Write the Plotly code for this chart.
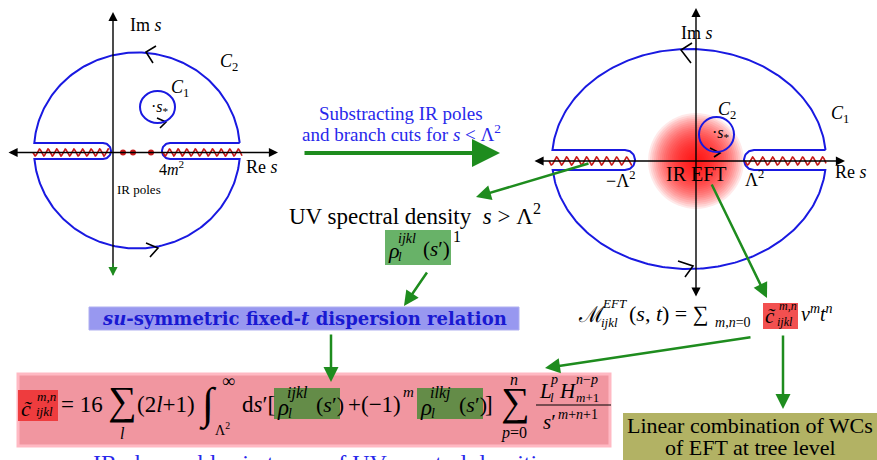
import numpy as np
import plotly.graph_objects as go

W, H = 877, 460
SERIF = "Liberation Serif, DejaVu Serif, serif"
BLUE = "rgb(25,25,225)"
TXTBLUE = "rgb(40,40,235)"
GREEN = "rgb(30,140,30)"
RED = "rgb(200,25,25)"

# ---------------- diagram geometry (pixel space) ----------------
# contour: centre x, centre y, rx, ry, cut top y, cut bottom y, left-cut end x, right-cut start x
left_contour = [137, 150.5, 103, 98, 143, 159, 111, 162]
right_contour = [689, 159, 137, 110, 150, 170, 635, 744]
left_axes = dict(h=[7, 278, 152.5], v=[113, 12, 276])
right_axes = dict(h=[533, 845, 161], v=[696, 8, 298])
left_cuts = [[33, 109], [163, 242]]
right_cuts = [[549, 632], [745, 826]]
ir_pole_x = [123, 133, 151]
glow_radii = list(np.linspace(48, 3, 24))

# text labels
left_labels = [
    (128, 25, "Im <i>s</i>", 18, "left"), (229, 62, "<i>C</i><sub>2</sub>", 18, "center"),
    (180, 88, "<i>C</i><sub>1</sub>", 18, "center"), (160, 107, "·<i>s</i><sub>*</sub>", 16, "center"),
    (171, 168, "4<i>m</i><sup>2</sup>", 16, "center"), (262, 167, "Re <i>s</i>", 18, "center"),
    (115, 189, "IR poles", 13, "left"),
]
right_labels = [
    (697, 33, "Im <i>s</i>", 18, "center"), (727, 110, "<i>C</i><sub>2</sub>", 18, "center"),
    (840, 114, "<i>C</i><sub>1</sub>", 18, "center"), (721, 133, "·<i>s</i><sub>*</sub>", 16, "center"),
    (621, 179, "−Λ<sup>2</sup>", 18, "center"), (696, 174, "IR EFT", 20, "center"),
    (754, 178, "Λ<sup>2</sup>", 18, "center"), (851, 172, "Re <i>s</i>", 18, "center"),
]
mid_text = ["Substracting IR poles", "and branch cuts for <i>s</i> &lt; Λ<sup>2</sup>"]
uv_text = "UV spectral density  <i>s</i> &gt; Λ<sup>2</sup>"
disp_text = "<b><i>su</i>-symmetric fixed-<i>t</i> dispersion relation</b>"
wc_text = ["Linear combination of WCs", "of EFT at tree level"]
bottom_text = "IR observables in terms of UV spectral densities"


def contour(cx, cy, rx, ry, yt, yb, xle, xrs):
    r = (yb - yt) / 2
    ym = (yt + yb) / 2
    xs, ys = [], []
    th = np.arcsin((cy - yt) / ry)
    t = np.linspace(th, np.pi - th, 160)
    xs += list(cx + rx * np.cos(t)); ys += list(cy - ry * np.sin(t))
    c = xle - r
    f = np.linspace(-np.pi / 2, np.pi / 2, 30)
    xs += list(c + r * np.cos(f)); ys += list(ym + r * np.sin(f))
    ps = np.arcsin((yb - cy) / ry)
    p = np.linspace(ps, np.pi - ps, 160)
    xs += list(cx - rx * np.cos(p)); ys += list(cy + ry * np.sin(p))
    c = xrs + r
    f = np.linspace(np.pi / 2, 3 * np.pi / 2, 30)
    xs += list(c + r * np.cos(f)); ys += list(ym + r * np.sin(f))
    xs.append(xs[0]); ys.append(ys[0])
    return xs, ys


def wave(a, b, y0, lam, amp):
    x = np.linspace(a, b, 300)
    return x, y0 + amp * np.sin(2 * np.pi * (x - a) / lam)


fig = go.Figure()

for cpar in (left_contour, right_contour):
    xs, ys = contour(*cpar)
    fig.add_trace(go.Scatter(x=xs, y=ys, mode="lines", line=dict(color=BLUE, width=2), hoverinfo="skip"))

for (a, b) in left_cuts:
    x, y = wave(a, b, left_axes["h"][2], 8.6, 3.5)
    fig.add_trace(go.Scatter(x=x, y=y, mode="lines", line=dict(color=RED, width=1.6), hoverinfo="skip"))
for (a, b) in right_cuts:
    x, y = wave(a, b, right_axes["h"][2], 10, 4)
    fig.add_trace(go.Scatter(x=x, y=y, mode="lines", line=dict(color=RED, width=1.6), hoverinfo="skip"))

fig.add_trace(go.Scatter(x=ir_pole_x, y=[left_axes["h"][2]] * 3, mode="markers",
                         marker=dict(color=RED, size=6), hoverinfo="skip"))

# chevrons on contours
chevrons = [
    [(156, 46), (146, 52), (153, 63)], [(146, 243), (158, 248), (150, 257)], [(157, 118), (166, 122), (160, 128)],
    [(692, 43), (681, 50), (691, 63)], [(678, 261), (693, 266), (685, 277)], [(710, 148), (720, 153), (714, 157)],
]
for ch in chevrons:
    fig.add_trace(go.Scatter(x=[p[0] for p in ch], y=[p[1] for p in ch], mode="lines",
                             line=dict(color="black", width=1.6), hoverinfo="skip"))

shapes = []
# red glow of the IR EFT region
gx, gy = right_axes["v"][0], right_axes["h"][2]
for r in glow_radii:
    shapes.append(dict(type="circle", xref="x", yref="y", x0=gx - r, x1=gx + r, y0=gy - r, y1=gy + r,
                       fillcolor="rgba(255,0,0,0.085)", line=dict(width=0), layer="below"))
# small circles C1 / C2
shapes.append(dict(type="circle", xref="x", yref="y", x0=140, x1=175, y0=91, y1=123,
                   line=dict(color=BLUE, width=2)))
shapes.append(dict(type="circle", xref="x", yref="y", x0=699, x1=734, y0=117, y1=152,
                   line=dict(color=BLUE, width=2)))
# coloured boxes
shapes.append(dict(type="rect", xref="x", yref="y", x0=385, x1=451, y0=230, y1=265,
                   fillcolor="rgb(104,178,104)", line=dict(width=0), layer="below"))
shapes.append(dict(type="rect", xref="x", yref="y", x0=89, x1=519, y0=307, y1=330,
                   fillcolor="rgb(152,152,240)", line=dict(color="rgb(175,175,240)", width=1), layer="below"))
shapes.append(dict(type="rect", xref="x", yref="y", x0=18, x1=610, y0=374, y1=446,
                   fillcolor="rgb(241,150,160)", line=dict(color="rgb(255,185,195)", width=3), layer="below"))
shapes.append(dict(type="rect", xref="x", yref="y", x0=18, x1=58, y0=390, y1=421,
                   fillcolor="rgb(238,60,62)", line=dict(width=0), layer="below"))
for x0, x1 in ((274, 340), (417, 483)):
    shapes.append(dict(type="rect", xref="x", yref="y", x0=x0, x1=x1, y0=388, y1=419,
                       fillcolor="rgb(100,140,72)", line=dict(width=0), layer="below"))
shapes.append(dict(type="rect", xref="x", yref="y", x0=763, x1=798, y0=303, y1=329,
                   fillcolor="rgb(242,80,80)", line=dict(width=0), layer="below"))
shapes.append(dict(type="rect", xref="x", yref="y", x0=623, x1=877, y0=413, y1=462,
                   fillcolor="rgb(178,178,100)", line=dict(width=0), layer="below"))
# fraction line
shapes.append(dict(type="line", xref="x", yref="y", x0=536, x1=611, y0=405, y1=405,
                   line=dict(color="black", width=1.2)))

ann = []


def T(x, y, text, size=17, color="black", xanchor="center", yanchor="middle", family=SERIF):
    ann.append(dict(x=x, y=y, xref="x", yref="y", text=text, showarrow=False,
                    font=dict(family=family, size=size, color=color), xanchor=xanchor, yanchor=yanchor))


def A(x0, y0, x1, y1, color, width, size=1.0, side="end"):
    ann.append(dict(x=x1, y=y1, ax=x0, ay=y0, xref="x", yref="y", axref="x", ayref="y",
                    showarrow=True, text="", arrowhead=2, startarrowhead=2, arrowsize=size,
                    startarrowsize=size, arrowwidth=width, arrowcolor=color, arrowside=side))


# axes
h = left_axes["h"]; v = left_axes["v"]
A(h[0], h[2], h[1], h[2], "black", 1.4, 1.3, "end+start")
A(v[0], v[2], v[0], v[1], "black", 1.4, 1.3)
A(v[0], v[2] - 14, v[0], v[2], GREEN, 1.4, 1.3)
h = right_axes["h"]; v = right_axes["v"]
A(h[0], h[2], h[1], h[2], "black", 1.4, 1.3, "end+start")
A(v[0], v[2], v[0], v[1], "black", 1.4, 1.3, "end+start")

# green flow arrows
A(303, 153, 500, 153, GREEN, 4, 1.4)
A(590, 163, 476, 197, GREEN, 2.5, 1.2)
A(428, 271, 404, 306, GREEN, 2.5, 1.2)
A(331, 333, 331, 382, GREEN, 2.5, 1.2)
A(711, 183, 767, 298, GREEN, 2.5, 1.2)
A(752, 337, 545, 368, GREEN, 2.5, 1.2)
A(783, 334, 783, 409, GREEN, 2.5, 1.2)

for (x, y, t, s, xa) in left_labels + right_labels:
    T(x, y, t, s, xanchor=xa)

T(401, 113, mid_text[0], 19, TXTBLUE)
T(401, 133, mid_text[1], 19, TXTBLUE)
T(415, 214, uv_text, 23)
T(386, 250, "<i>ρ</i>", 22, xanchor="left")
T(396, 256, "<i>l</i>", 13, xanchor="left")
T(396, 238, "<i>ijkl</i>", 14, xanchor="left")
T(421, 249, "(<i>s</i>′)", 21, xanchor="left")
T(457, 236, "1", 16)
T(304, 318, disp_text, 18, "rgb(25,25,210)", family="DejaVu Serif")

# equation
EY = 404
T(26, 408, "<i>c̃</i>", 22)
T(35, 396, "<i>m,n</i>", 13, xanchor="left")
T(34, 411, "<i>ijkl</i>", 13, xanchor="left")
T(82, EY, "= 16", 23)
T(122, 400, "∑", 40)
T(122, 433, "<i>l</i>", 16)
T(166, EY, "(2<i>l</i>+1)", 23)
T(208, 404, "∫", 44)
T(228, 381, "∞", 18)
T(222, 429, "Λ<sup>2</sup>", 14)
T(258, EY, "d<i>s</i>′[", 23)
for bx, idx in ((275, "<i>ijkl</i>"), (418, "<i>ilkj</i>")):
    T(bx, EY + 3, "<i>ρ</i>", 23, xanchor="left")
    T(bx + 11, 413, "<i>l</i>", 14, xanchor="left")
    T(bx + 10, 393, idx, 16, xanchor="left")
    T(bx + 39, EY, "(<i>s</i>′)", 22, xanchor="left")
T(374, EY, "+(−1)", 23)
T(408, 392, "<i>m</i>", 15)
T(489, EY, "]", 23)
T(515, 401, "∑", 40)
T(514, 379, "<i>n</i>", 16)
T(514, 433, "<i>p</i>=0", 16)
# fraction L_l^p H_{m+1}^{n-p} / s'^{m+n+1}
T(537, 391, "<i>L</i>", 21, xanchor="left")
T(548, 379, "<i>p</i>", 14, xanchor="left")
T(548, 397, "<i>l</i>", 13, xanchor="left")
T(557, 391, "<i>H</i>", 21, xanchor="left")
T(574, 379, "<i>n</i>−<i>p</i>", 14, xanchor="left")
T(574, 397, "<i>m</i>+1", 13, xanchor="left")
T(541, 422, "<i>s</i>′", 21, xanchor="left")
T(556, 414, "<i>m</i>+<i>n</i>+1", 14, xanchor="left")

# M^EFT line
T(576, 314, "ℳ", 22, xanchor="left")
T(600, 303, "<i>EFT</i>", 13, xanchor="left")
T(599, 322, "<i>ijkl</i>", 13, xanchor="left")
T(627, 313, "(<i>s</i>, <i>t</i>) = ∑", 22, xanchor="left")
T(713, 322, "<i>m</i>,<i>n</i>=0", 14, xanchor="left")
T(770, 316, "<i>c̃</i>", 21)
T(777, 306, "<i>m,n</i>", 12, xanchor="left")
T(775, 322, "<i>ijkl</i>", 12, xanchor="left")
T(799, 313, "<i>v</i><sup><i>m</i></sup><i>t</i><sup><i>n</i></sup>", 20, xanchor="left")

T(750, 425, wc_text[0], 22)
T(750, 447, wc_text[1], 22)
T(325, 448, bottom_text, 24, TXTBLUE, yanchor="top")

fig.update_layout(
    width=W, height=H, margin=dict(l=0, r=0, t=0, b=0),
    paper_bgcolor="white", plot_bgcolor="white", showlegend=False,
    xaxis=dict(range=[0, W], visible=False, fixedrange=True),
    yaxis=dict(range=[H, 0], visible=False, fixedrange=True),
    shapes=shapes, annotations=ann,
)
fig.write_html("out.html", config={"displayModeBar": False},
               post_script="document.body.style.margin='0px';document.body.style.overflow='hidden';")
